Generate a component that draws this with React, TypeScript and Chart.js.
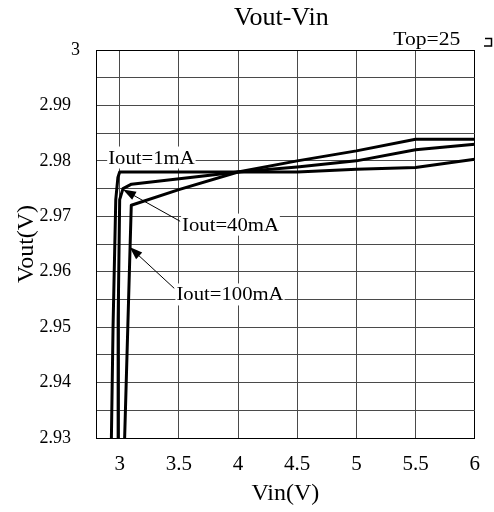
import React, { useEffect, useRef } from 'react';
import { Chart, registerables } from 'chart.js';

Chart.register(...registerables);

const chartTitle = 'Vout-Vin';
const conditionLabel = 'Top=25';
const xAxisTitle = 'Vin(V)';
const yAxisTitle = 'Vout(V)';

const xMin = 2.8;
const xMax = 6;
const yMin = 2.93;
const yMax = 3;

const xTickValues = [3, 3.5, 4, 4.5, 5, 5.5, 6];
const xTickLabels = ['3', '3.5', '4', '4.5', '5', '5.5', '6'];
const yTickValues = [2.93, 2.935, 2.94, 2.945, 2.95, 2.955, 2.96, 2.965, 2.97, 2.975, 2.98, 2.985, 2.99, 2.995, 3];
const yTickLabels = ['2.93', '', '2.94', '', '2.95', '', '2.96', '', '2.97', '', '2.98', '', '2.99', '', '3'];

// Iout = 1mA
const vin1mA = [2.93, 2.944, 2.967, 2.985, 3.0, 3.5, 4.0, 4.5, 5.0, 5.5, 6.0];
const vout1mA = [2.93, 2.95, 2.973, 2.977, 2.978, 2.978, 2.978, 2.978, 2.9785, 2.9788, 2.9803];
// Iout = 40mA
const vin40mA = [2.986, 2.987, 3.0, 3.028, 3.1, 4.0, 4.5, 5.0, 5.5, 6.0];
const vout40mA = [2.93, 2.9513, 2.973, 2.975, 2.9758, 2.978, 2.9789, 2.98, 2.982, 2.983];
// Iout = 100mA
const vin100mA = [3.042, 3.098, 3.5, 4.0, 4.5, 5.0, 5.5, 6.0];
const vout100mA = [2.93, 2.972, 2.9748, 2.978, 2.98, 2.9818, 2.9839, 2.9839];

// annotations (data coordinates)
const annotationTexts = ['Iout=1mA', 'Iout=40mA', 'Iout=100mA'];
const annotationX = [3.268, 3.936, 3.932];
const annotationY = [2.9806, 2.9685, 2.9559];
const arrowTailX = [null, 3.511, 3.461];
const arrowTailY = [null, 2.9691, 2.957];
const arrowTipX = [null, 3.028, 3.084];
const arrowTipY = [null, 2.97485, 2.96444];

const FONT = '"Liberation Serif", "Times New Roman", serif';

function pts(xs: number[], ys: number[]) {
  return xs.map((x, i) => ({ x, y: ys[i] }));
}

function drawStretched(ctx: CanvasRenderingContext2D, text: string, cx: number, baseline: number, sx: number) {
  const w = ctx.measureText(text).width;
  ctx.save();
  ctx.translate(cx, baseline);
  ctx.scale(sx, 1);
  ctx.textAlign = 'left';
  ctx.textBaseline = 'alphabetic';
  ctx.fillText(text, -w / 2, 0);
  ctx.restore();
}

const decorPlugin = {
  id: 'decor',
  afterDatasetsDraw(chart: any) {
    const ctx: CanvasRenderingContext2D = chart.ctx;
    const xs = chart.scales.x;
    const ys = chart.scales.y;
    ctx.save();
    ctx.strokeStyle = '#000';
    ctx.fillStyle = '#000';
    ctx.lineWidth = 1;
    for (let i = 0; i < annotationTexts.length; i++) {
      if (arrowTipX[i] == null) continue;
      const x0 = xs.getPixelForValue(arrowTailX[i]);
      const y0 = ys.getPixelForValue(arrowTailY[i]);
      const x1 = xs.getPixelForValue(arrowTipX[i]);
      const y1 = ys.getPixelForValue(arrowTipY[i]);
      const ang = Math.atan2(y1 - y0, x1 - x0);
      const L = 13;
      const W = 4.5;
      const c = Math.cos(ang);
      const s = Math.sin(ang);
      ctx.beginPath();
      ctx.moveTo(x0, y0);
      ctx.lineTo(x1 - L * 0.8 * c, y1 - L * 0.8 * s);
      ctx.stroke();
      ctx.beginPath();
      ctx.moveTo(x1, y1);
      ctx.lineTo(x1 - L * c + W * s, y1 - L * s - W * c);
      ctx.lineTo(x1 - L * c - W * s, y1 - L * s + W * c);
      ctx.closePath();
      ctx.fill();
    }
    ctx.font = `18px ${FONT}`;
    const sx = 1.15;
    for (let i = 0; i < annotationTexts.length; i++) {
      const cx = xs.getPixelForValue(annotationX[i]);
      const cy = ys.getPixelForValue(annotationY[i]);
      const w = ctx.measureText(annotationTexts[i]).width * sx;
      ctx.fillStyle = '#fff';
      ctx.fillRect(cx - w / 2 - 1, cy - 11, w + 2, 22);
      ctx.fillStyle = '#000';
      drawStretched(ctx, annotationTexts[i], cx, cy + 6, sx);
    }
    ctx.restore();
  },
  afterDraw(chart: any) {
    const ctx: CanvasRenderingContext2D = chart.ctx;
    const area = chart.chartArea;
    ctx.save();
    ctx.fillStyle = '#000';
    ctx.font = `26px ${FONT}`;
    drawStretched(ctx, chartTitle, (area.left + area.right) / 2 - 4, 25, 1);
    ctx.font = `18px ${FONT}`;
    drawStretched(ctx, conditionLabel, area.right - 48, 45, 1.2);
    ctx.strokeStyle = '#000';
    ctx.lineWidth = 1.5;
    ctx.beginPath();
    ctx.moveTo(485, 38.5);
    ctx.lineTo(491.5, 38.5);
    ctx.lineTo(491.5, 46);
    ctx.lineTo(484, 46);
    ctx.stroke();
    ctx.restore();
  },
};

export default function App() {
  const ref = useRef<HTMLCanvasElement | null>(null);

  useEffect(() => {
    if (!ref.current) return;
    const lineStyle = {
      borderColor: '#000',
      backgroundColor: '#000',
      borderWidth: 3,
      pointRadius: 0,
      tension: 0,
      fill: false,
      borderJoinStyle: 'round' as const,
    };
    const chart = new Chart(ref.current, {
      type: 'line',
      data: {
        datasets: [
          { label: annotationTexts[0], data: pts(vin1mA, vout1mA), ...lineStyle },
          { label: annotationTexts[1], data: pts(vin40mA, vout40mA), ...lineStyle },
          { label: annotationTexts[2], data: pts(vin100mA, vout100mA), ...lineStyle },
        ],
      },
      options: {
        responsive: false,
        animation: false,
        devicePixelRatio: 1,
        layout: { padding: { top: 50, right: 16, left: 0, bottom: 0 } },
        plugins: {
          legend: { display: false },
          title: { display: false },
          tooltip: { enabled: false },
        },
        scales: {
          x: {
            type: 'linear',
            min: xMin,
            max: xMax,
            afterBuildTicks: (s: any) => {
              s.ticks = xTickValues.map((v) => ({ value: v }));
            },
            afterFit: (s: any) => {
              s.height = 74;
            },
            ticks: {
              autoSkip: false,
              maxRotation: 0,
              padding: 14,
              color: '#000',
              font: { family: FONT, size: 21 },
              callback: (_v: any, i: number) => xTickLabels[i],
            },
            grid: {
              drawTicks: false,
              lineWidth: 1,
              color: (c: any) => (c.tick && c.tick.value === xMax ? '#000' : '#4a4a4a'),
            },
            border: { color: '#000', width: 1 },
            title: {
              display: true,
              text: xAxisTitle,
              color: '#000',
              font: { family: FONT, size: 24 },
              padding: { top: 0, bottom: 4 },
            },
          },
          y: {
            type: 'linear',
            min: yMin,
            max: yMax,
            afterBuildTicks: (s: any) => {
              s.ticks = yTickValues.map((v) => ({ value: v }));
            },
            afterFit: (s: any) => {
              s.width = 96;
            },
            ticks: {
              autoSkip: false,
              padding: 16,
              color: '#000',
              font: { family: FONT, size: 18 },
              callback: (_v: any, i: number) => {
                const t = yTickLabels[i];
                return t && t !== '3' ? t + '\u2002' : t;
              },
            },
            grid: {
              drawTicks: false,
              lineWidth: 1,
              color: (c: any) => (c.tick && c.tick.value === yMax ? '#000' : '#4a4a4a'),
            },
            border: { color: '#000', width: 1 },
            title: {
              display: true,
              text: yAxisTitle,
              color: '#000',
              font: { family: FONT, size: 24 },
              padding: { top: 12, bottom: 0 },
            },
          },
        },
      },
      plugins: [decorPlugin],
    });
    return () => chart.destroy();
  }, []);

  return (
    <div style={{ position: 'fixed', left: 0, top: 0, width: 494, height: 512, background: '#fff' }}>
      <canvas ref={ref} width={494} height={512} style={{ display: 'block', width: 494, height: 512 }} />
    </div>
  );
}
